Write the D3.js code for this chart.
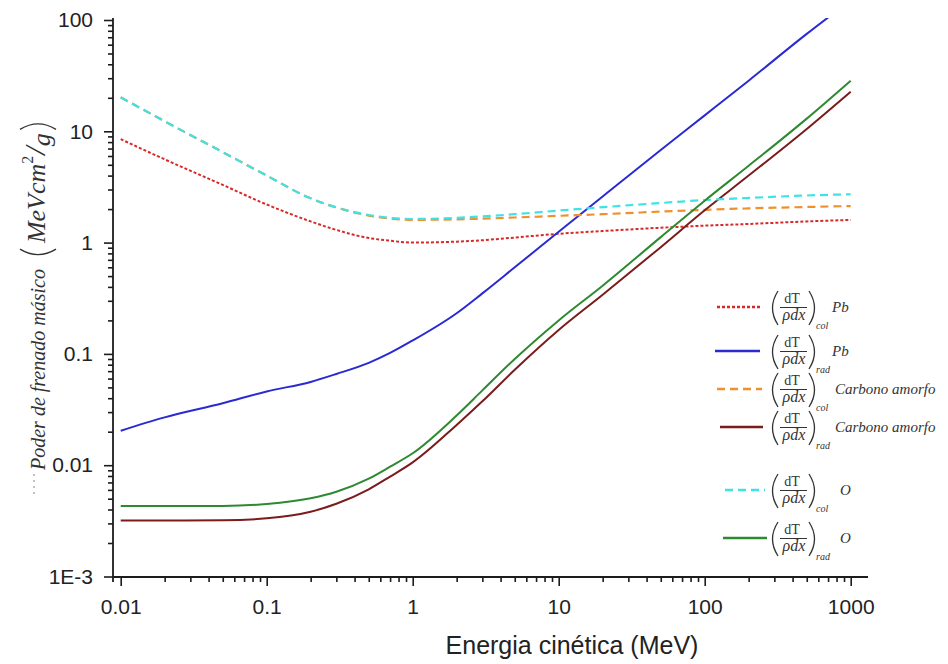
<!DOCTYPE html>
<html>
<head>
<meta charset="utf-8">
<script src="https://cdn.jsdelivr.net/npm/d3@7"></script>
<style>
  body { margin: 0; background: #fff; }
  svg { display: block; }
</style>
</head>
<body>
<svg id="chart"></svg>
<script>
const width = 948;
const height = 664;

// Kinetic energy grid (MeV)
const energy = [0.01, 0.02, 0.05, 0.1, 0.2, 0.3, 0.5, 0.7, 1, 2, 3, 5, 10, 20, 50, 100, 200, 500, 1000];

// Mass stopping power (MeV cm2/g)
const pbCol = [8.5, 5.6, 3.3, 2.2, 1.55, 1.3, 1.1, 1.04, 1.0, 1.02, 1.05, 1.11, 1.2, 1.27, 1.36, 1.42, 1.47, 1.55, 1.6];
const pbRad = [0.0204, 0.0269, 0.036, 0.046, 0.056, 0.066, 0.083, 0.102, 0.132, 0.232, 0.35, 0.6, 1.25, 2.6, 6.8, 13.9, 28.5, 75, 150];
const cCol = [20.2, 12.3, 6.5, 4.0, 2.5, 2.07, 1.75, 1.65, 1.6, 1.62, 1.64, 1.68, 1.74, 1.8, 1.9, 1.97, 2.03, 2.09, 2.13];
const cRad = [0.00318, 0.00318, 0.0032, 0.00333, 0.00382, 0.0045, 0.00607, 0.0079, 0.0106, 0.023, 0.0375, 0.072, 0.164, 0.34, 0.91, 1.95, 4.0, 10.5, 22.7];
const oCol = [20.2, 12.3, 6.5, 4.0, 2.5, 2.07, 1.77, 1.67, 1.63, 1.67, 1.72, 1.8, 1.94, 2.08, 2.27, 2.41, 2.52, 2.65, 2.72];
const oRad = [0.0043, 0.0043, 0.0043, 0.00448, 0.00505, 0.00578, 0.00757, 0.0097, 0.0128, 0.028, 0.047, 0.09, 0.2, 0.41, 1.12, 2.38, 4.9, 13, 28.5];

// Legend texts
const seriesSub = ["col", "rad", "col", "rad", "col", "rad"];
const seriesName = ["Pb", "Pb", "Carbono amorfo", "Carbono amorfo", "O", "O"];

// Tick labels
const xTicks = [0.01, 0.1, 1, 10, 100, 1000];
const xTickLabels = ["0.01", "0.1", "1", "10", "100", "1000"];
const yTicks = [0.001, 0.01, 0.1, 1, 10, 100];
const yTickLabels = ["1E-3", "0.01", "0.1", "1", "10", "100"];

// Styles, in legend order
const styles = [
    { color: "#d62a2a", dash: "3,2", w: 2 },
    { color: "#2a2ad2", dash: null, w: 2 },
    { color: "#f0902c", dash: "8,5", w: 2.2 },
    { color: "#7a1c1c", dash: null, w: 2 },
    { color: "#3fe2e6", dash: "8,5", w: 2.2 },
    { color: "#2e8a30", dash: null, w: 2 }
];
const seriesValues = [pbCol, pbRad, cCol, cRad, oCol, oRad];

const x = d3.scaleLog().domain([0.01, 1000]).range([120.7, 850.7]);
const y = d3.scaleLog().domain([0.001, 100]).range([576.5, 20]);

const svg = d3.select("#chart")
    .attr("width", width)
    .attr("height", height)
    .attr("viewBox", [0, 0, width, height]);

const axisColor = "#1c1c1c";
const sans = "'Liberation Sans', Arial, sans-serif";
const serif = "'Liberation Serif', 'DejaVu Serif', serif";

// minor ticks (2..9 per decade)
function minorTicks(lo, hi) {
    const out = [];
    for (let d = lo; d < hi; d *= 10) {
        for (let k = 2; k <= 9; k++) out.push(d * k);
    }
    return out;
}

// X axis
const xMinor = svg.append("g")
    .attr("transform", "translate(0,577)")
    .call(d3.axisBottom(x).tickValues(minorTicks(0.01, 1000)).tickSize(5).tickSizeOuter(0).tickFormat(""));
const xMajor = svg.append("g")
    .attr("transform", "translate(0,577)")
    .call(d3.axisBottom(x).tickValues(xTicks).tickSize(9).tickSizeOuter(0).tickPadding(13)
        .tickFormat((d, i) => xTickLabels[i]));

// Y axis
const yMinor = svg.append("g")
    .attr("transform", "translate(113,0)")
    .call(d3.axisLeft(y).tickValues(minorTicks(0.001, 100)).tickSize(5).tickSizeOuter(0).tickFormat(""));
const yMajor = svg.append("g")
    .attr("transform", "translate(113,0)")
    .call(d3.axisLeft(y).tickValues(yTicks).tickSize(9).tickSizeOuter(0).tickPadding(11)
        .tickFormat((d, i) => yTickLabels[i]));

[xMinor, xMajor, yMinor, yMajor].forEach(g => {
    g.select(".domain").remove();
    g.selectAll(".tick line").attr("stroke", axisColor).attr("stroke-width", 1.6);
    g.selectAll(".tick text")
        .attr("fill", "#222")
        .style("font-family", sans)
        .style("font-size", "21px");
});

// axis lines
svg.append("line")
    .attr("x1", 113).attr("x2", 868).attr("y1", 577).attr("y2", 577)
    .attr("stroke", axisColor).attr("stroke-width", 1.8);
svg.append("line")
    .attr("x1", 113).attr("x2", 113).attr("y1", 18).attr("y2", 582)
    .attr("stroke", axisColor).attr("stroke-width", 1.8);

// Curves
svg.append("clipPath").attr("id", "plot-clip")
    .append("rect").attr("x", 113).attr("y", 18).attr("width", 760).attr("height", 560);

const line = d3.line()
    .x(d => x(d[0]))
    .y(d => y(d[1]))
    .curve(d3.curveMonotoneX);

const curves = svg.append("g").attr("clip-path", "url(#plot-clip)");
seriesValues.forEach((vals, i) => {
    const pts = energy.map((e, j) => [e, vals[j]]);
    curves.append("path")
        .datum(pts)
        .attr("fill", "none")
        .attr("stroke", styles[i].color)
        .attr("stroke-width", styles[i].w)
        .attr("stroke-dasharray", styles[i].dash)
        .attr("d", line);
});

// Legend
const legY = [307, 351, 389, 427, 490, 538];
const legX1 = [717, 715, 717, 720, 725, 723];
const legX2 = [760, 760, 762, 763, 765, 767];
const legend = svg.append("g").style("font-family", serif).attr("fill", "#333");

seriesName.forEach((name, i) => {
    const L = legY[i];
    legend.append("line")
        .attr("x1", legX1[i]).attr("x2", legX2[i]).attr("y1", L).attr("y2", L)
        .attr("stroke", styles[i].color)
        .attr("stroke-width", styles[i].w + 0.4)
        .attr("stroke-dasharray", styles[i].dash);
    // big parentheses
    legend.append("path")
        .attr("d", `M778,${L - 16} Q767,${L + 1} 778,${L + 18}`)
        .attr("fill", "none").attr("stroke", "#333").attr("stroke-width", 1.3);
    legend.append("path")
        .attr("d", `M809,${L - 16} Q820,${L + 1} 809,${L + 18}`)
        .attr("fill", "none").attr("stroke", "#333").attr("stroke-width", 1.3);
    legend.append("text")
        .attr("x", 792).attr("y", L - 4)
        .attr("text-anchor", "middle")
        .style("font-size", "14px")
        .text("dT");
    legend.append("line")
        .attr("x1", 780).attr("x2", 807).attr("y1", L + 0.5).attr("y2", L + 0.5)
        .attr("stroke", "#333").attr("stroke-width", 1);
    legend.append("text")
        .attr("x", 794).attr("y", L + 13)
        .attr("text-anchor", "middle")
        .style("font-size", "16px").style("font-style", "italic")
        .text("ρdx");
    legend.append("text")
        .attr("x", 816).attr("y", L + 22)
        .style("font-size", "10px").style("font-style", "italic")
        .text(seriesSub[i]);
    legend.append("text")
        .attr("x", name === "O" ? 840 : (i < 2 ? 832 : 835)).attr("y", L + 5)
        .style("font-size", "15px").style("font-style", "italic")
        .text(name);
});

// Y axis title (rotated; local x runs upwards on the page)
const yt = svg.append("g")
    .attr("transform", "translate(45,470) rotate(-90)")
    .attr("fill", "#333")
    .style("font-family", serif)
    .style("font-style", "italic");
const ytMain = yt.append("text")
    .attr("x", 0).attr("y", 0)
    .style("font-size", "20px")
    .text("Poder de frenado másico");
const mainLen = ytMain.node().getComputedTextLength();
const p0 = mainLen + 12;
yt.append("path")
    .attr("d", `M${p0 + 8},-25 Q${p0 - 3},-7 ${p0 + 8},11`)
    .attr("fill", "none").attr("stroke", "#333").attr("stroke-width", 1.4);
const unit = yt.append("text")
    .attr("x", p0 + 14).attr("y", 0)
    .style("font-size", "26px");
unit.append("tspan").text("MeVcm");
unit.append("tspan").attr("dy", -12).style("font-size", "16px").style("font-style", "normal").text("2");
unit.append("tspan").attr("dy", 12).attr("dx", 1).style("font-size", "30px").text("/");
unit.append("tspan").attr("dy", 5).text("g");
const p1 = p0 + 14 + unit.node().getComputedTextLength() + 5;
yt.append("path")
    .attr("d", `M${p1},-25 Q${p1 + 11},-7 ${p1},11`)
    .attr("fill", "none").attr("stroke", "#333").attr("stroke-width", 1.4);

// small dotted mark left of the 0.01 label
svg.append("line")
    .attr("x1", 34).attr("x2", 34).attr("y1", 474).attr("y2", 497)
    .attr("stroke", "#999").attr("stroke-width", 1.2).attr("stroke-dasharray", "2,4");

// X axis title
svg.append("text")
    .attr("x", 572).attr("y", 654)
    .attr("text-anchor", "middle")
    .attr("fill", "#222")
    .style("font-family", sans)
    .style("font-size", "25px")
    .text("Energia cinética (MeV)");
</script>
</body>
</html>
